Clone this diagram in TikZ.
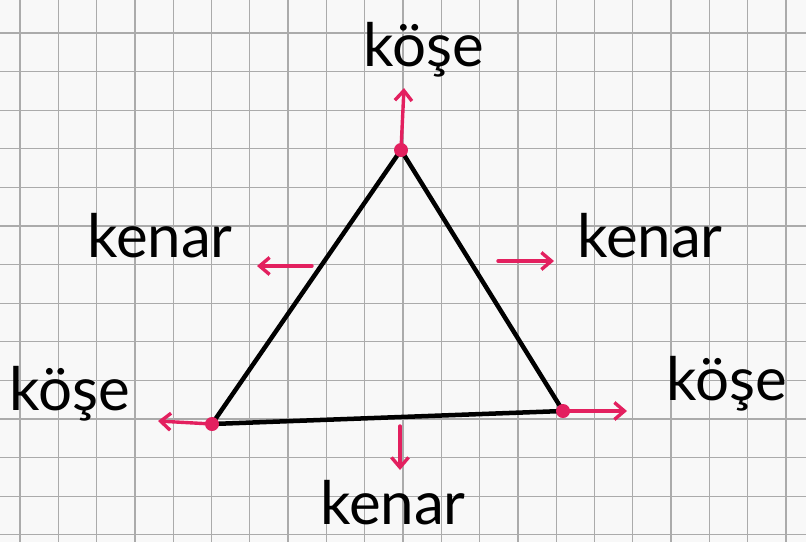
\documentclass[tikz,border=0pt]{standalone}
\usepackage{fontspec}
\setmainfont{Lato}
\usetikzlibrary{arrows.meta}
\definecolor{pen}{HTML}{E3205F}
\definecolor{gridgray}{HTML}{ABABAB}
\definecolor{paper}{HTML}{F8F8F8}

\begin{document}
\begin{tikzpicture}[x=1pt, y=-1pt, >={Straight Barb[length=10pt,width=17pt]},
  corner/.style={circle, fill=pen, inner sep=0pt, minimum size=14pt},
  word/.style={font=\fontsize{60}{62}\selectfont, inner sep=0pt},
  pink/.style={->, draw=pen, line width=3.4pt, line cap=round}]
\fill[paper] (0,0) rectangle (806,542);
\useasboundingbox (0,0) rectangle (806,542);
% squared paper
\foreach \i in {0,...,20}
  \draw[gridgray, line width=1.3pt] (20+38.3*\i,0) -- (20+38.3*\i,542);
\foreach \j in {0,...,13}
  \draw[gridgray, line width=1.3pt] (0,33+38.6*\j) -- (806,33+38.6*\j);

% triangle
\coordinate (A) at (401,150);
\coordinate (B) at (212,424);
\coordinate (C) at (563,411);
\draw[line width=4.5pt, line join=round] (A) -- (B) -- (C) -- cycle;
\node[corner] (dotA) at (A) {};
\node[corner] (dotB) at (B) {};
\node[corner] (dotC) at (C) {};

% labels
\node[word] (koseA) at (424,50) {köşe};
\node[word] (koseB) at (70,394) {köşe};
\node[word] (koseC) at (727,384) {köşe};
\node[word] (kenarAB) at (160,236) {kenar};
\node[word] (kenarAC) at (650,236) {kenar};
\node[word] (kenarBC) at (393,503) {kenar};

% arrow ends
\coordinate (tipA) at (404,88);
\coordinate (tipB) at (158,421);
\coordinate (tipC) at (627,411);
\coordinate (fromAB) at (312,266);
\coordinate (tipAB) at (257,266);
\coordinate (fromAC) at (498,261);
\coordinate (tipAC) at (554,261);
\coordinate (fromBC) at (400,426);
\coordinate (tipBC) at (400,470);

\draw[pink] (dotA.center) -- (tipA);
\draw[pink] (dotB.center) -- (tipB);
\draw[pink] (dotC.center) -- (tipC);
\draw[pink] (fromAB) -- (tipAB);
\draw[pink] (fromAC) -- (tipAC);
\draw[pink] (fromBC) -- (tipBC);
\end{tikzpicture}
\end{document}
